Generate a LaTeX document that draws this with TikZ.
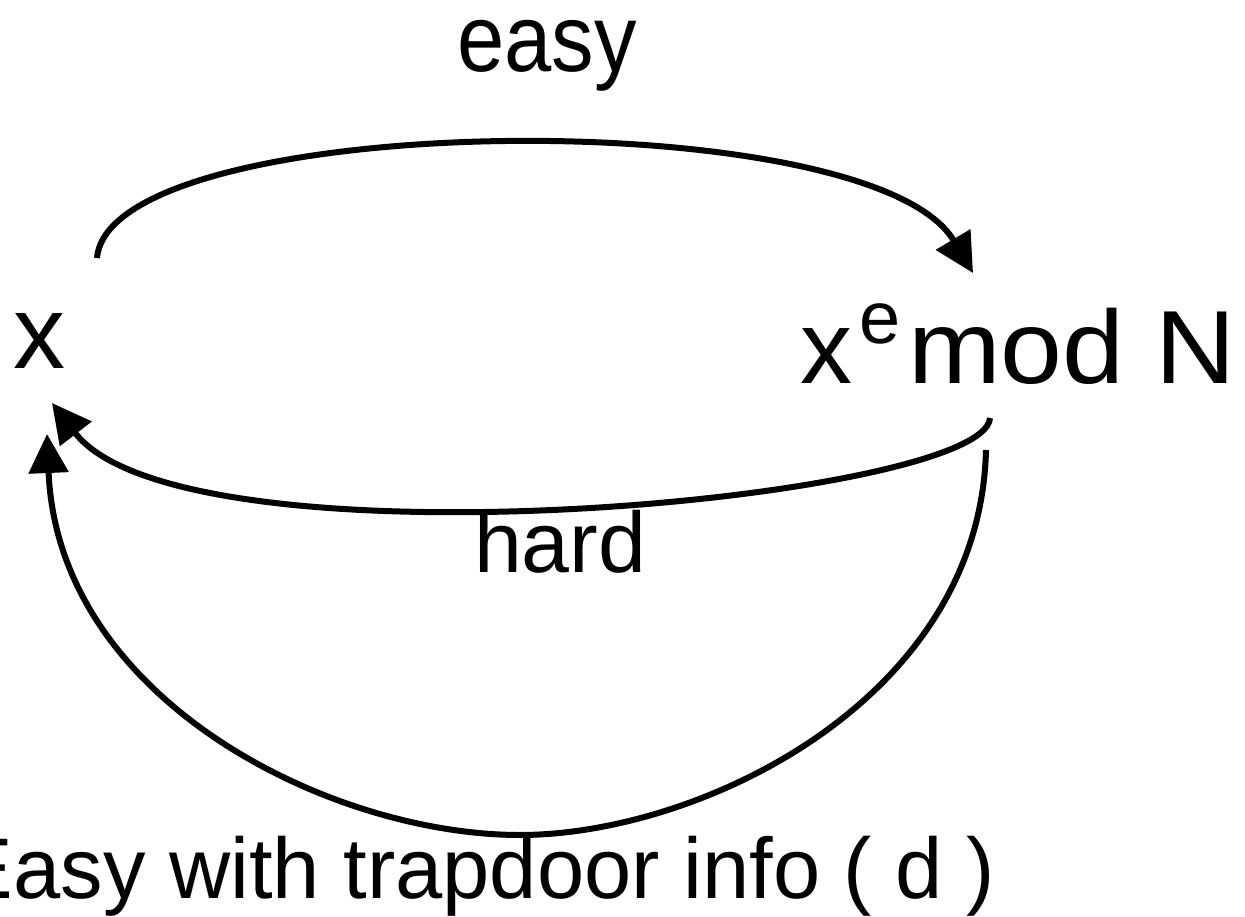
\documentclass[tikz,border=0pt]{standalone}
\usepackage{fontspec}
\setmainfont{Liberation Sans}
\usetikzlibrary{arrows.meta}
\begin{document}
\begin{tikzpicture}[x=1pt,y=-1pt,
  lbl/.style={inner sep=0pt, outer sep=0pt, anchor=base west},
  conn/.style={line width=6pt, -{Triangle[length=39pt,width=39pt]}}]
\useasboundingbox (0,0) rectangle (1245,917);
% nodes
\node[lbl, font=\fontsize{104}{110}\selectfont] (x) at (13,368) {x};
\node[lbl, font=\fontsize{104}{110}\selectfont] (y) at (800,383)
  {x\kern7pt\raisebox{40pt}{\fontsize{74}{80}\selectfont e}\kern8pt\scalebox{1.07}[1]{mod N}};
\node[lbl, font=\fontsize{85}{90}\selectfont] (easy) at (457,72) {\scalebox{1}[1.12]{easy}};
\node[lbl, font=\fontsize{86}{90}\selectfont] (hard) at (474,572) {hard};
\node[lbl, font=\fontsize{86}{90}\selectfont] (trap) at (-43,898) {\scalebox{0.987}[1]{Easy with trapdoor info ( d )}};
% connector ends
\coordinate (e0) at (97,258);
\coordinate (e1) at (973,273);
\coordinate (h0) at (990,418);
\coordinate (h1) at (52,403);
\coordinate (t0) at (986,450);
\coordinate (tb) at (520,835);
\coordinate (t1) at (47,434);
% connectors
\draw[conn] (e0) .. controls (110,110) and (870,100) .. (e1);
\draw[conn] (h0) .. controls (985,500) and (184,574) .. (h1);
\draw[conn] (t0) .. controls (980,700) and (700,835) .. (tb)
                 .. controls (330,835) and (58,700) .. (t1);
\end{tikzpicture}
\end{document}
